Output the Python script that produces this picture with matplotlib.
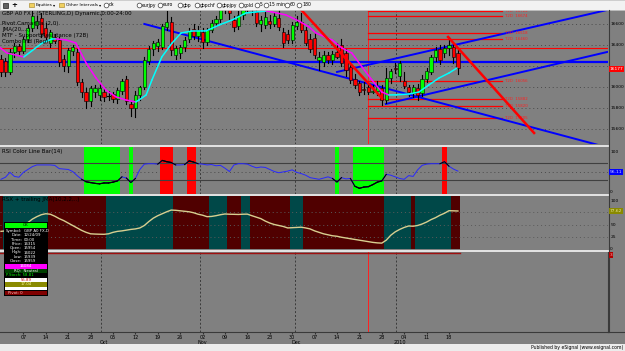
# eSignal style chart: GBP A0 FX daily candles + RSI colour bar + RSX

import matplotlib
matplotlib.use('Agg')
import matplotlib.pyplot as plt
from matplotlib.patches import Rectangle
from matplotlib.lines import Line2D
import numpy as np
import pandas as pd

# ---------------- data ----------------
dates = pd.bdate_range('2009-08-31', '2010-01-20')

opens = [16270, 16250, 16140, 16330, 16390, 16340, 16460, 16560, 16590, 16660,
         16560, 16420, 16480, 16450, 16270, 16200, 16340, 16330, 16050, 15950,
         15870, 15950, 15920, 15950, 15910, 15930, 15890, 15960, 16080, 15840,
         15800, 15920, 16000, 16250, 16360, 16390, 16380, 16570, 16620, 16300,
         16320, 16380, 16460, 16550, 16490, 16520, 16430, 16540, 16610, 16650,
         16740, 16820, 16640, 16580, 16690, 16760, 16800, 16710, 16600, 16590,
         16630, 16600, 16660, 16520, 16500, 16450, 16580, 16620, 16540, 16460,
         16470, 16260, 16240, 16300, 16260, 16330, 16400, 16320, 16190, 16080,
         16040, 15980, 16000, 15954, 15960, 15990, 15880, 16090, 16180, 16100,
         16060, 16000, 15940, 15990, 15940, 16080, 16140, 16290, 16360, 16320,
         16370, 16380, 16320]
highs = [16300, 16280, 16360, 16420, 16410, 16480, 16590, 16720, 16680, 16700,
         16610, 16540, 16500, 16480, 16300, 16370, 16400, 16360, 16080, 15990,
         16010, 16020, 16030, 15980, 15960, 15950, 15990, 16080, 16100, 15860,
         15960, 16010, 16290, 16390, 16440, 16460, 16600, 16720, 16670, 16390,
         16400, 16480, 16560, 16600, 16580, 16560, 16560, 16640, 16680, 16780,
         16880, 16870, 16680, 16720, 16790, 16880, 16850, 16760, 16680, 16710,
         16690, 16700, 16800, 16560, 16540, 16620, 16680, 16700, 16570, 16500,
         16520, 16330, 16340, 16330, 16340, 16420, 16460, 16360, 16230, 16120,
         16060, 16050, 16040, 16022, 16060, 16020, 16180, 16170, 16230, 16250,
         16140, 16020, 16020, 16030, 16110, 16180, 16300, 16380, 16400, 16400,
         16480, 16420, 16350]
lows = [16100, 16100, 16120, 16290, 16310, 16320, 16430, 16530, 16560, 16480,
        16450, 16380, 16420, 16200, 16150, 16140, 16300, 16020, 15900, 15800,
        15820, 15900, 15880, 15870, 15880, 15860, 15850, 15930, 15840, 15720,
        15710, 15880, 15980, 16220, 16300, 16340, 16360, 16540, 16300, 16270,
        16280, 16340, 16430, 16460, 16440, 16370, 16400, 16520, 16580, 16620,
        16700, 16650, 16530, 16550, 16650, 16720, 16690, 16580, 16530, 16560,
        16560, 16580, 16540, 16380, 16420, 16420, 16550, 16520, 16400, 16330,
        16280, 16160, 16200, 16230, 16220, 16280, 16200, 16100, 16040, 15990,
        15920, 15930, 15930, 15939, 15920, 15830, 15850, 16040, 16130, 16060,
        15990, 15910, 15900, 15880, 15910, 16050, 16120, 16250, 16220, 16290,
        16300, 16230, 16120]
closes = [16140, 16140, 16330, 16390, 16340, 16460, 16560, 16680, 16630, 16500,
          16480, 16520, 16440, 16240, 16200, 16350, 16380, 16050, 15950, 15870,
          15990, 15990, 15990, 15900, 15910, 15890, 15970, 16060, 15870, 15800,
          15920, 16000, 16260, 16360, 16420, 16430, 16580, 16620, 16350, 16370,
          16380, 16450, 16530, 16490, 16540, 16430, 16540, 16610, 16650, 16740,
          16820, 16700, 16570, 16690, 16750, 16800, 16740, 16610, 16640, 16670,
          16600, 16680, 16570, 16420, 16450, 16590, 16620, 16540, 16420, 16360,
          16300, 16290, 16300, 16260, 16310, 16290, 16230, 16160, 16070, 16020,
          15950, 15970, 15950, 15959, 16000, 15880, 16090, 16150, 16170, 16230,
          16010, 15950, 16000, 15920, 16080, 16150, 16290, 16350, 16260, 16370,
          16400, 16290, 16177]

# JMA(20) knots (bar index, price)
jma_x = [-0.4, 1.3, 5.1, 9.2, 11.4, 12.3, 14.5, 16.7, 19.0, 21.2, 23.4, 25.7, 27.9,
         30.1, 30.8, 32.4, 33.7, 35.9, 38.2, 40.2, 42.6, 45.8, 48.7, 51.6, 54.7,
         56.9, 59.2, 60.5, 63.6, 66.5, 68.8, 70.3, 73.9, 76.1, 78.3, 80.6, 82.8,
         85.0, 86.6, 88.2, 91.1, 93.3, 95.5, 97.8, 100.0, 101.8]
jma_y = [16381, 16324, 16286, 16419, 16457, 16458, 16448, 16419, 16229, 16086,
         15971, 15905, 15876, 15857, 15876, 15924, 16067, 16286, 16419, 16514,
         16533, 16534, 16590, 16638, 16705, 16714, 16724, 16714, 16686, 16628,
         16571, 16514, 16448, 16371, 16324, 16190, 16067, 15952, 15924, 15925,
         15933, 15952, 16019, 16086, 16133, 16181]

rsi = [31, 36, 48, 38, 36, 48, 55, 62, 66, 66, 66, 66, 65, 57, 56, 55, 50, 40, 31, 25,
       23, 21, 20, 22, 22, 24, 27, 37, 34, 23, 33, 55, 68, 69, 69, 68, 77, 74, 72, 66,
       66, 67, 76, 73, 69, 68, 66, 67, 64, 65, 58, 50, 66, 69, 69, 68, 63, 59, 61, 60,
       55, 50, 47, 49, 51, 54, 48, 45, 41, 35, 33, 31, 34, 37, 33, 24, 35, 32, 33, 14,
       9, 12, 13, 18, 24, 27, 43, 41, 37, 33, 31, 40, 38, 54, 65, 68, 69, 69, 69, 74,
       63, 56, 51]

rsx = [36, 37, 39, 42, 45, 49, 54, 61, 66, 70, 72, 71, 67, 62, 58, 53, 48, 43, 38, 34,
       31, 30.5, 30.2, 30.0, 31, 34, 36, 37, 38.5, 40, 41, 43, 48, 56, 63, 68, 72, 76,
       79.5, 79, 78, 77, 76, 74, 71, 69, 66, 66.5, 68, 70, 71.5, 71, 70.8, 70.5, 71,
       71.2, 68, 65, 62, 57, 53, 50, 48, 46, 43, 43.5, 44, 44.5, 43, 41, 37, 34, 31,
       29, 27, 26, 24, 22.5, 21, 19.5, 18, 16.5, 15, 13.5, 12.5, 12, 18, 28, 35, 40,
       44, 47, 46.5, 48, 51, 55, 60, 64, 69, 73, 78.2, 77.9, 77.6]

# drawn objects: trend lines (bar index, price)
blue_lines = [((32.0, 16600), (134.0, 15440)),
              ((75.0, 16143), (135.3, 16733)),
              ((85.9, 15838), (135.3, 16333))]
red_lines = [((66.9, 16740), (85.0, 15895)),
             ((99.8, 16476), (119.0, 15562))]
hline_red = 16369
hline_blue = 16238
t2d_start, t2d_end = 81.9, 111.8
t2d_levels = [16722, 16674, 16518, 16460, 16056, 15882, 15820, 15705]
vline_red = 81.9

price_ticks = [15600, 15800, 16000, 16400, 16600]
price_grid = [15600, 15800, 16000, 16200, 16400, 16600]
last_price = '16177'
rsi_label = '56.11'
rsx_label = '77.62'

info_rows = [('Symbol:', 'GBP A0 FX,D'), ('Date:', '12/24/09'), ('Time:', '00:00'),
             ('Price:', '16315'), ('Open:', '15954'), ('High:', '16022'),
             ('Low:', '15939'), ('Close:', '15959')]

toolbar_syms = ['dx', 'eurjpy', 'euro', 'gbp', 'gbpchf', 'gbpjpy', 'gold', '5',
                '15 min', '60', '180']

# ---------------- layout helpers ----------------
W, H = 625, 351
GRAY = '#808080'
fig = plt.figure(figsize=(W / 100, H / 100), dpi=100)
fig.patch.set_facecolor(GRAY)


def box(x0, y0, x1, y1):
    return [x0 / W, 1 - y1 / H, (x1 - x0) / W, (y1 - y0) / H]


def fx(px):
    return px / W


def fy(py):
    return 1 - py / H


n = len(closes)
idx = np.arange(n)
XL = (-0.22, 135.5)
month_lines = [22.3, 44.4, 65.6, 88.2]
dot = (0, (1, 3))


def base(ax, ylim):
    ax.set_facecolor(GRAY)
    ax.set_xlim(*XL)
    ax.set_ylim(*ylim)
    for s in ax.spines.values():
        s.set_visible(False)
    ax.set_xticks([])
    ax.yaxis.tick_right()
    ax.tick_params(axis='y', length=0, labelsize=3.2, pad=1.6)
    for m in month_lines:
        ax.axvline(m, color='#3a3a3a', lw=0.7, ls=(0, (2, 2)), zorder=1)
    ax.axvline(vline_red, color='#ff2020', lw=0.7, zorder=1)


# ---------------- price panel ----------------
ax = fig.add_axes(box(0, 10, 608, 144))
base(ax, (15457, 16733))
ax.set_yticks(price_ticks)
ax.set_yticklabels([str(v) for v in price_ticks])
for g in price_grid:
    ax.axhline(g, color='#4a4a4a', lw=0.7, ls=dot, zorder=1)

ax.axhline(hline_red, color='#ff0000', lw=0.8, zorder=2)
ax.axhline(hline_blue, color='#0000ff', lw=1.6, zorder=2)

for (x0, y0), (x1, y1) in blue_lines:
    ax.plot([x0, x1], [y0, y1], color='#0000ff', lw=1.4, zorder=3)

for lv in t2d_levels:
    ax.plot([t2d_start, t2d_end], [lv, lv], color='#ff0000', lw=0.9, zorder=2)
    ax.text(t2d_end + 0.8, lv, 'T2D  %d' % lv, color='#ff2020', fontsize=2.8,
            va='center', ha='left', zorder=5)

# candles
for i in range(n):
    o, h, l, c = opens[i], highs[i], lows[i], closes[i]
    ax.plot([i, i], [l, h], color='black', lw=0.8, zorder=4)
    if c == o:
        ax.plot([i - 0.35, i + 0.35], [c, c], color='black', lw=0.8, zorder=5)
        continue
    col = '#00ff00' if c > o else '#ff0000'
    ax.add_patch(Rectangle((i - 0.36, min(o, c)), 0.72, abs(c - o), facecolor=col,
                           edgecolor='black', lw=0.4, zorder=5))

# JMA coloured by slope
for k in range(len(jma_x) - 1):
    col = '#00ffff' if jma_y[k + 1] >= jma_y[k] else '#ff00ff'
    ax.plot(jma_x[k:k + 2], jma_y[k:k + 2], color=col, lw=1.1, zorder=6,
            solid_capstyle='round')

for (x0, y0), (x1, y1) in red_lines:
    ax.plot([x0, x1], [y0, y1], color='#ff0000', lw=1.8, zorder=7)

# header texts
fig.text(fx(2), fy(13), 'GBP A0 FX - (STERLING,D) Dynamic,0:00-24:00', fontsize=4,
         color='black', va='center')
for yy, s in [(24, 'Pivot Camarilla (2,0)'), (30, 'JMA(20,...)'),
              (36, 'MTF - Support/Resistance (72B)'), (42, 'Combo Ind (Reg)')]:
    fig.text(fx(2), fy(yy), s, fontsize=4, color='black', va='center')

# ---------------- RSI panel ----------------
ar = fig.add_axes(box(0, 147, 608, 194))
base(ar, (-4.9, 109.8))
ar.set_yticks([0, 100])
ar.set_yticklabels(['0', '100'])
ar.axhline(70, color='#404040', lw=0.8, zorder=2)
ar.axhline(30, color='#404040', lw=0.8, zorder=2)
ar.axhline(50, color='#4a4a4a', lw=0.7, ls=dot, zorder=1)
for i in range(n):
    if rsi[i] < 30:
        ar.axvspan(i - 0.5, i + 0.5, color='#00ff00', lw=0, zorder=1.5)
    elif rsi[i] > 70:
        ar.axvspan(i - 0.5, i + 0.5, color='#ff0000', lw=0, zorder=1.5)
ar.plot(idx, rsi, color='#2828ff', lw=0.7, zorder=3)
zone = [(r < 30 or r > 70) for r in rsi]
for i in range(n):
    if zone[i]:
        a, b = max(i - 1, 0), min(i + 1, n - 1)
        ar.plot(idx[a:b + 1], rsi[a:b + 1], color='black', lw=0.8, zorder=4)
fig.text(fx(2), fy(151), 'RSI Color Line Bar(14)', fontsize=4, color='black', va='center')

# ---------------- RSX panel ----------------
ax2 = fig.add_axes(box(0, 196, 608, 249))
base(ax2, (0, 108.2))
ax2.set_yticks([0, 25, 50, 100])
ax2.set_yticklabels(['0', '25', '50', '100'])
for i in range(n):
    up = i > 0 and rsx[i] > rsx[i - 1]
    ax2.axvspan(i - 0.5, i + 0.5, color='#004848' if up else '#500000', lw=0, zorder=1.2)
for g in (25, 50, 75):
    ax2.axhline(g, color='#5a5a5a', lw=0.7, ls=dot, zorder=1.5)
ax2.plot(idx, rsx, color='#d8cf90', lw=1.0, zorder=3)
fig.text(fx(2), fy(200), 'RSX + trailing JMA(10,2,2,..)', fontsize=4, color='black',
         va='center')

# ---------------- lower empty panel with date axis ----------------
ae = fig.add_axes(box(0, 252, 608, 332))
base(ae, (0, 1))
ae.set_yticks([])
ae.plot([XL[0], n - 0.5], [0.985, 0.985], color='#a01010', lw=1.0, zorder=3)
for s in ('bottom', 'right'):
    ae.spines[s].set_visible(True)
    ae.spines[s].set_color('#3a3a3a')
    ae.spines[s].set_linewidth(0.8)
mondays = [i for i, d in enumerate(dates) if d.dayofweek == 0 and i > 0]
ae.set_xticks(mondays)
ae.set_xticklabels([dates[i].strftime('%d') for i in mondays])
ae.tick_params(axis='x', length=1.2, labelsize=3.5, pad=0.8, color='#303030')
prev = dates[0].month
first = True
for i, d in enumerate(dates):
    if d.month != prev:
        prev = d.month
        if first:          # the first partial month is not labelled
            first = False
            continue
        lab = d.strftime('%b') if d.month != 1 else str(d.year)
        fig.text(fx(1 + 4.48 * i), fy(342), lab, fontsize=3.5, color='black',
                 ha='center', va='center')

# separators and right border
for yy in (145.5, 195.0, 250.5):
    fig.add_artist(Line2D([0, fx(608)], [fy(yy), fy(yy)], color='#e4e4e4', lw=1.4))
fig.add_artist(Line2D([fx(608.5), fx(608.5)], [fy(10), fy(332)], color='#3a3a3a', lw=0.8))
fig.add_artist(Line2D([fx(608), fx(625)], [fy(332), fy(332)], color='#3a3a3a', lw=0.8))


# right side value boxes
def tag(y, s, bg, fg):
    fig.text(fx(610), fy(y), s, fontsize=3.2, color=fg, va='center', ha='left',
             bbox=dict(boxstyle='square,pad=0.15', fc=bg, ec='none'))


tag(69, last_price, '#ff0000', 'white')
tag(172, rsi_label, '#0000ff', '#d0d0ff')
tag(211, rsx_label, '#8a8a00', '#e8e8a0')
tag(255, '3', '#b00000', '#ffb0b0')


# ---------------- cursor info box ----------------
def frect(x0, y0, x1, y1, color):
    fig.add_artist(Rectangle((fx(x0), fy(y1)), (x1 - x0) / W, (y1 - y0) / H,
                             transform=fig.transFigure, facecolor=color,
                             edgecolor='none', zorder=10))


def ftext(x, y, s, color, ha='center'):
    fig.text(fx(x), fy(y), s, fontsize=2.8, color=color, ha=ha, va='center', zorder=11)


frect(4, 222, 48, 296, '#000000')
frect(5, 223, 47, 228, '#00ff00')
ftext(26, 225.5, 'OK', 'black')
for k, (lab, val) in enumerate(info_rows):
    yy = 231 + k * 4.3
    ftext(22, yy, lab, 'white', 'right')
    ftext(23.5, yy, val, 'white', 'left')
frect(5, 264, 47, 268.5, '#ff00ff')
ftext(26, 266.3, '16084', 'white')
frect(5, 269, 47, 273, '#004000')
ftext(26, 271, 'RQ:  Neutral', 'white')
ftext(6, 275.3, 'P.Stoch: 58.81', '#00ff00', 'left')
frect(5, 278, 47, 282, '#ffffff')
ftext(26, 280, '55.89', '#c00000')
frect(5, 282, 47, 286.5, '#8a8a00')
ftext(26, 284.3, '17.04', '#ffffa0')
frect(5, 286.5, 47, 290, '#ffffff')
frect(5, 291, 47, 295, '#800000')
ftext(8, 293, 'Pivot: 0', '#ffc0c0', 'left')

# ---------------- toolbar and footer ----------------
tb = fig.add_axes(box(0, 0, 625, 10))
tb.set_facecolor('#f2f2f2')
tb.set_xlim(0, 625)
tb.set_ylim(10, 0)
tb.set_xticks([])
tb.set_yticks([])
for s in tb.spines.values():
    s.set_color('#c8c8c8')
    s.set_linewidth(0.6)
tb.add_patch(Rectangle((3, 2.5), 5, 5, fc='#606060', ec='black', lw=0.4))
tb.text(14, 5, '+', fontsize=5, ha='center', va='center', weight='bold')
for x0, lab, xa in [(29, 'Equities', 54), (59, 'Other Intervals', 100.5)]:
    tb.add_patch(Rectangle((x0, 3), 5, 4, fc='#f0d060', ec='#a08020', lw=0.4))
    tb.text(x0 + 7, 5, lab, fontsize=3.1, va='center')
    tb.text(xa, 5, '\u25be', fontsize=3.1, va='center', ha='center')
tb_x = [106, 139, 160, 180, 197, 219, 241, 257, 266, 287, 299]
for x0, lab in zip(tb_x, toolbar_syms):
    tb.plot(x0, 5, marker='o', ms=3.4, mfc='white', mec='#404040', mew=0.5)
    tb.text(x0 + 3, 5, lab, fontsize=3.3, va='center')
tb.plot([0, 625], [9.6, 9.6], color='white', lw=0.8)

ft = fig.add_axes(box(0, 344, 625, 351))
ft.set_facecolor('#ececec')
ft.set_xticks([])
ft.set_yticks([])
for s in ft.spines.values():
    s.set_visible(False)
ft.text(0.997, 0.5, 'Published by eSignal (www.esignal.com)', fontsize=3.3,
        ha='right', va='center', transform=ft.transAxes)

fig.savefig('out.png', dpi=100, facecolor=fig.get_facecolor())
